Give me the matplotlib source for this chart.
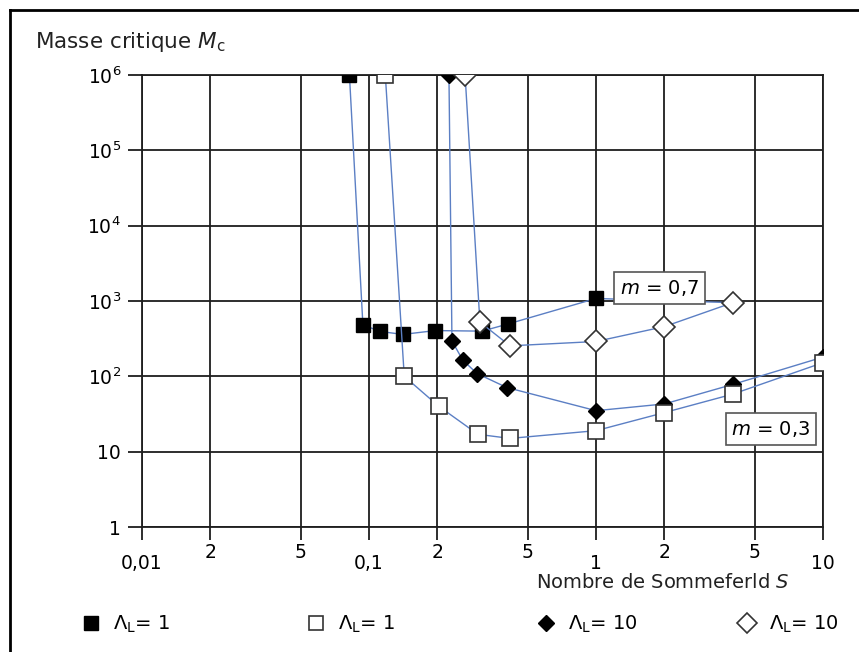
import matplotlib
matplotlib.use("Agg")
import matplotlib.pyplot as plt
from matplotlib.lines import Line2D
from matplotlib.ticker import FixedLocator, FixedFormatter, NullFormatter

# Sommerfeld number S and critical mass Mc
s_sq_fill = [0.082, 0.094, 0.112, 0.141, 0.196, 0.315, 0.41, 1.0, 4.0]
m_sq_fill = [1e6, 483, 394, 360, 405, 398, 496, 1080, 950]

s_sq_open = [0.118, 0.143, 0.203, 0.302, 0.418, 1.0, 2.0, 4.0, 10.0]
m_sq_open = [1e6, 100, 40, 17, 15, 19, 33, 58, 152]

s_di_fill = [0.225, 0.232, 0.259, 0.299, 0.405, 1.0, 2.0, 4.0, 10.0]
m_di_fill = [1e6, 294, 164, 109, 71, 35, 43, 78, 180]

s_di_open = [0.265, 0.308, 0.418, 1.0, 2.0, 4.0]
m_di_open = [1e6, 525, 254, 290, 457, 950]

x_major = [0.01, 0.1, 1, 10]
x_major_labels = ["0,01", "0,1", "1", "10"]
x_minor = [0.02, 0.05, 0.2, 0.5, 2, 5]
x_minor_labels = ["2", "5", "2", "5", "2", "5"]
y_ticks = [1, 10, 1e2, 1e3, 1e4, 1e5, 1e6]
y_labels = ["1", "10", "$10^2$", "$10^3$", "$10^4$", "$10^5$", "$10^6$"]

legend_labels = [r"$\Lambda_{\rm L}$= 1", r"$\Lambda_{\rm L}$= 1",
                 r"$\Lambda_{\rm L}$= 10", r"$\Lambda_{\rm L}$= 10"]

plt.rcParams["font.family"] = ["DejaVu Sans"]
plt.rcParams["mathtext.fontset"] = "dejavusans"

line_col = "#5b7fc4"
grid_col = "#1e1e1e"

fig = plt.figure(figsize=(8.59, 6.52), dpi=100)
ax = fig.add_axes([0.1653, 0.1917, 0.7928, 0.6933])
ax.set_xscale("log")
ax.set_yscale("log")
ax.set_xlim(0.01, 10)
ax.set_ylim(1, 1e6)

sq_fill, = ax.plot(s_sq_fill, m_sq_fill, color=line_col, lw=1.0, marker="s", ms=10.5,
                   mfc="black", mec="black", markevery=list(range(len(s_sq_fill) - 1)), zorder=3)
di_fill, = ax.plot(s_di_fill, m_di_fill, color=line_col, lw=1.0, marker="D", ms=8.5,
                   mfc="black", mec="black", zorder=3.5)
sq_open, = ax.plot(s_sq_open, m_sq_open, color=line_col, lw=1.0, marker="s", ms=11.5,
                   mfc="white", mec="#333333", mew=1.2, zorder=4)
di_open, = ax.plot(s_di_open, m_di_open, color=line_col, lw=1.0, marker="D", ms=11,
                   mfc="white", mec="#333333", mew=1.2, zorder=5)

# axes: every grid line drawn dark like the printed chart
ax.xaxis.set_major_locator(FixedLocator(x_major))
ax.xaxis.set_major_formatter(FixedFormatter(x_major_labels))
ax.xaxis.set_minor_locator(FixedLocator(x_minor))
ax.xaxis.set_minor_formatter(FixedFormatter(x_minor_labels))
ax.yaxis.set_major_locator(FixedLocator(y_ticks))
ax.yaxis.set_major_formatter(FixedFormatter(y_labels))
ax.yaxis.set_minor_formatter(NullFormatter())
ax.yaxis.set_minor_locator(FixedLocator([]))

ax.grid(True, which="both", axis="x", color=grid_col, lw=1.3)
ax.grid(True, which="major", axis="y", color=grid_col, lw=1.3)
ax.set_axisbelow(True)
for sp in ax.spines.values():
    sp.set_color(grid_col)
    sp.set_linewidth(1.3)

ax.tick_params(axis="x", which="major", direction="out", length=9.5, width=1.3,
               color=grid_col, pad=10, labelsize=13.5)
ax.tick_params(axis="x", which="minor", direction="out", length=9.5, width=1.3,
               color=grid_col, pad=2, labelsize=13.5)
ax.tick_params(axis="y", which="major", direction="out", length=10, width=1.3,
               color=grid_col, pad=5, labelsize=13.5)

ax.text(1.91, 1490, "$m$ = 0,7", fontsize=14, ha="center", va="center", zorder=6,
        bbox=dict(boxstyle="square,pad=0.3", fc="white", ec="#555555", lw=1.2))
ax.text(5.9, 20, "$m$ = 0,3", fontsize=14, ha="center", va="center", zorder=6,
        bbox=dict(boxstyle="square,pad=0.3", fc="white", ec="#555555", lw=1.2))

fig.text(35 / 859, 1 - 42 / 652, "Masse critique $M_{\\rm c}$", fontsize=15.5,
         ha="left", va="center", color="#222222")
fig.text(790 / 859, 1 - 582 / 652, "Nombre de Sommeferld $S$", fontsize=14,
         ha="right", va="center", color="#222222")

# one small legend per entry, spread along the bottom like the original
handles = [sq_fill, sq_open, di_fill, di_open]
legend_x = [72, 297, 527, 728]
for h, lab, lx in zip(handles, legend_labels, legend_x):
    proxy = Line2D([], [], ls="none", marker=h.get_marker(), ms=h.get_markersize() * 0.9,
                   mfc=h.get_markerfacecolor(), mec=h.get_markeredgecolor(), mew=h.get_markeredgewidth())
    fig.legend(handles=[proxy], labels=[lab], loc="center left",
               bbox_to_anchor=(lx / 859, 1 - 624 / 652), frameon=False,
               fontsize=14, handlelength=1.0, handletextpad=0.6, borderpad=0)

# outer frame of the scanned figure (top and left edges)
fig.add_artist(Line2D([10 / 859, 1.0], [1 - 10 / 652, 1 - 10 / 652], color="black", lw=2))
fig.add_artist(Line2D([10 / 859, 10 / 859], [0.0, 1 - 10 / 652], color="black", lw=2))

fig.savefig("out.png", dpi=100)
